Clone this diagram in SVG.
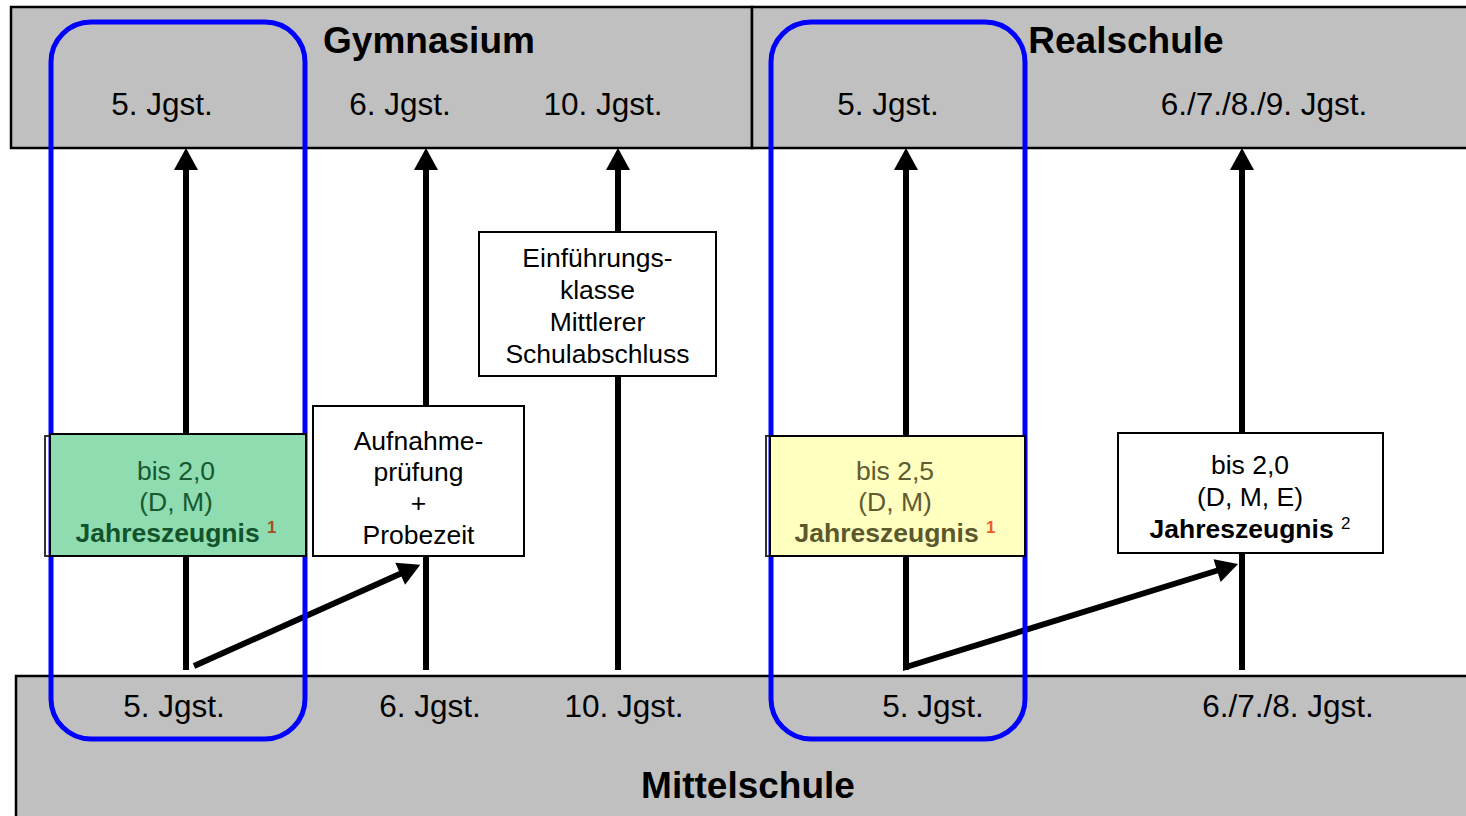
<svg xmlns="http://www.w3.org/2000/svg" width="1466" height="816" viewBox="0 0 1466 816">
<style>
text{font-family:"Liberation Sans",Arial,sans-serif;text-anchor:middle;fill:#000}
.title{font-size:37px;font-weight:bold}
.lbl{font-size:31.5px}
.bx{font-size:26.5px}
.band{fill:#c0c0c0;stroke:#000;stroke-width:2.5}
.box{stroke:#000;stroke-width:2}
.conn{stroke:#000;stroke-width:6;fill:none}
.sel{fill:none;stroke:#0000ff;stroke-width:5}
.sup{font-size:17px}
</style>
<defs>
<marker id="ah" markerUnits="userSpaceOnUse" markerWidth="24" markerHeight="26" refX="2" refY="12" orient="auto" overflow="visible">
<path d="M0,0 L22,12 L0,24 Z" fill="#000"/>
</marker>
</defs>
<rect width="1466" height="816" fill="#fff"/>
<g id="gymnasium">
<rect class="band" x="11" y="7" width="741" height="141"/>
<text class="title" x="429" y="53">Gymnasium</text>
<text class="lbl" x="162" y="115">5. Jgst.</text>
<text class="lbl" x="400" y="115">6. Jgst.</text>
<text class="lbl" x="603" y="115">10. Jgst.</text>
</g>
<g id="realschule">
<rect class="band" x="752" y="7" width="720" height="141"/>
<text class="title" x="1126" y="53">Realschule</text>
<text class="lbl" x="888" y="115">5. Jgst.</text>
<text class="lbl" x="1264" y="115">6./7./8./9. Jgst.</text>
</g>
<g id="mittelschule">
<rect class="band" x="16" y="676" width="1460" height="150"/>
<text class="lbl" x="174" y="717">5. Jgst.</text>
<text class="lbl" x="430" y="717">6. Jgst.</text>
<text class="lbl" x="624" y="717">10. Jgst.</text>
<text class="lbl" x="933" y="717">5. Jgst.</text>
<text class="lbl" x="1288" y="717">6./7./8. Jgst.</text>
<text class="title" x="748" y="798">Mittelschule</text>
</g>
<g id="connectors">
<line class="conn" x1="186" y1="670" x2="186" y2="168" marker-end="url(#ah)"/>
<line class="conn" x1="426" y1="670" x2="426" y2="168" marker-end="url(#ah)"/>
<line class="conn" x1="618" y1="670" x2="618" y2="168" marker-end="url(#ah)"/>
<line class="conn" x1="906" y1="670" x2="906" y2="168" marker-end="url(#ah)"/>
<line class="conn" x1="1242" y1="670" x2="1242" y2="168" marker-end="url(#ah)"/>
<line class="conn" x1="194" y1="666" x2="402" y2="573" marker-end="url(#ah)"/>
<polyline class="conn" points="906,640 906,667 1219,570" stroke-linejoin="miter" marker-end="url(#ah)"/>
</g>
<g id="highlight-left"><rect class="sel" x="51" y="22" width="254" height="717" rx="40"/></g>
<g id="highlight-right"><rect class="sel" x="771" y="22" width="254" height="717" rx="40"/></g>
<g id="box-green">
<rect x="45" y="436" width="258" height="120" fill="none" stroke="#333" stroke-width="2"/>
<rect class="box" x="50" y="434" width="256" height="122" fill="#8fdcb1"/>
<text class="bx" x="176" y="480" style="fill:#17592f">bis 2,0</text>
<text class="bx" x="176" y="511" style="fill:#17592f">(D, M)</text>
<text class="bx" x="176" y="542"><tspan font-weight="bold" style="fill:#12532b">Jahreszeugnis</tspan> <tspan class="sup" font-weight="bold" dy="-9" style="fill:#a3502a">1</tspan></text>
</g>
<g id="box-aufnahme">
<rect class="box" x="313" y="406" width="211" height="150" fill="#fff"/>
<text class="bx" x="418.5" y="450">Aufnahme-</text>
<text class="bx" x="418.5" y="481">prüfung</text>
<text class="bx" x="418.5" y="512">+</text>
<text class="bx" x="418.5" y="544">Probezeit</text>
</g>
<g id="box-einfuehrung">
<rect class="box" x="479" y="232" width="237" height="144" fill="#fff"/>
<text class="bx" x="597.5" y="267">Einführungs-</text>
<text class="bx" x="597.5" y="299">klasse</text>
<text class="bx" x="597.5" y="331">Mittlerer</text>
<text class="bx" x="597.5" y="363">Schulabschluss</text>
</g>
<g id="box-yellow">
<rect x="766" y="436" width="258" height="120" fill="none" stroke="#333" stroke-width="2"/>
<rect class="box" x="770" y="436" width="255" height="120" fill="#ffffc0"/>
<text class="bx" x="895" y="480" style="fill:#5e5c30">bis 2,5</text>
<text class="bx" x="895" y="511" style="fill:#5e5c30">(D, M)</text>
<text class="bx" x="895" y="542"><tspan font-weight="bold" style="fill:#5a582c">Jahreszeugnis</tspan> <tspan class="sup" font-weight="bold" dy="-9" style="fill:#f05a28">1</tspan></text>
</g>
<g id="box-right">
<rect class="box" x="1118" y="433" width="265" height="120" fill="#fff"/>
<text class="bx" x="1250" y="474">bis 2,0</text>
<text class="bx" x="1250" y="506">(D, M, E)</text>
<text class="bx" x="1250" y="538"><tspan font-weight="bold">Jahreszeugnis</tspan> <tspan class="sup" dy="-9">2</tspan></text>
</g>
</svg>
